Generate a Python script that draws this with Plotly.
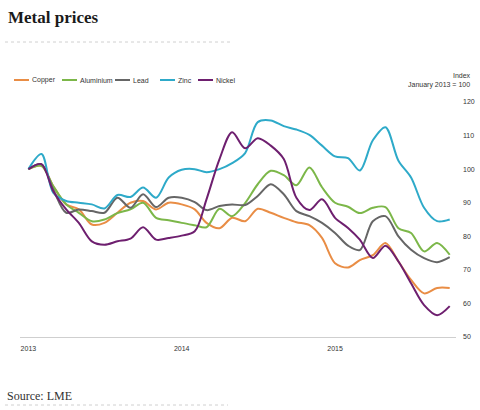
import pandas as pd
import plotly.graph_objects as go

# ---- data (index, January 2013 = 100), monthly Jan 2013 - Oct 2015 ----
months = pd.date_range("2013-01-01", periods=34, freq="MS")

copper = [100, 101, 95, 89.5, 88, 83.5, 84, 87, 90, 90.5, 88, 90,
          89.5, 88, 84, 82.4, 85.5, 84.5, 88.2, 87, 85.5, 84.2, 83.3, 79.5,
          72, 70.7, 72.9, 74.4, 78, 72.5, 67, 63, 64.6, 64.6]
aluminium = [100, 101, 95, 89.5, 87, 84.5, 85, 86.9, 88, 90, 85.5, 84.8,
             84, 83.3, 82.7, 88.2, 86, 89.9, 95.5, 99.5, 98.2, 95.2, 100.5, 94.6,
             90, 88.8, 86.9, 88.5, 88.7, 82.4, 81, 75.5, 78, 74.5]
lead = [100, 101.5, 94, 87, 88, 87.5, 87, 91.5, 88.5, 92.5, 88.7, 91.5,
        91.5, 90.2, 87.8, 89, 89.5, 89.3, 92, 95.5, 92.5, 87.5, 86, 84,
        81, 77.2, 75.9, 84.5, 86, 80, 76, 73.5, 72.3, 73.8]
zinc = [100, 104.5, 93, 90.5, 90, 89.5, 88.3, 92.3, 91.7, 94.5, 91.5, 97.5,
        99.8, 100, 99.1, 100, 101.8, 104.8, 114, 114.5, 112.8, 111.8, 110.2, 107,
        103.8, 103.3, 99.6, 108.6, 112.5, 102.5, 97.5, 88.5, 84.5, 85]
nickel = [100, 101.5, 93.5, 88, 84, 78.5, 77.5, 78.5, 79.3, 82.7, 79, 79.5,
          80.2, 81.5, 91, 103, 111, 106.2, 109.2, 107, 103, 91.5, 87.8, 91,
          85.5, 82.5, 79, 73.5, 77.2, 72.5, 66, 59.5, 56.5, 59.2]

series_names = ["Copper", "Aluminium", "Lead", "Zinc", "Nickel"]
series_values = [copper, aluminium, lead, zinc, nickel]
series_colors = ["#e98d45", "#7cb749", "#666666", "#2eaac9", "#6e1f6f"]

year_ticks = ["2013-01-01", "2014-01-01", "2015-01-01"]
year_labels = ["2013", "2014", "2015"]
y_ticks = [50, 60, 70, 80, 90, 100, 110, 120]

# ---- layout geometry (pixels) ----
W, H = 480, 410
ML, MR, MT, MB = 20, 24, 102, 73
PW, PH = W - ML - MR, H - MT - MB


def px(x):
    return (x - ML) / PW


def py(y):
    return (H - MB - y) / PH


fig = go.Figure()
for name, vals, col in zip(series_names, series_values, series_colors):
    fig.add_trace(go.Scatter(
        x=months, y=vals, name=name, mode="lines",
        line=dict(color=col, width=2, shape="spline", smoothing=0.9),
        showlegend=False, hoverinfo="skip",
    ))

small = dict(family="Liberation Sans, Arial", size=7, color="#333333")

fig.update_layout(
    width=W, height=H, autosize=False,
    margin=dict(l=ML, r=MR, t=MT, b=MB, pad=0, autoexpand=False),
    paper_bgcolor="white", plot_bgcolor="white",
    title=dict(text="<b>Metal prices</b>", xref="container", yref="container",
               x=8 / W, y=1 - 17 / H, xanchor="left", yanchor="middle",
               font=dict(family="Liberation Serif", size=17, color="#1a1a1a")),
    xaxis=dict(type="date", range=["2012-12-12", "2015-10-16"], automargin=False,
               tickvals=year_ticks, ticktext=year_labels,
               showgrid=False, zeroline=False, showline=True,
               linecolor="#cfcfcf", linewidth=1, ticks="",
               ticklabelstandoff=5, tickfont=small),
    yaxis=dict(range=[50, 120], side="right", tickvals=y_ticks, automargin=False,
               showgrid=False, zeroline=False, showline=False, ticks="",
               ticklabelstandoff=6, tickfont=small),
)

shapes = []
annotations = []
# title and source rules
shapes.append(dict(type="line", xref="paper", yref="paper",
                   x0=px(5), x1=px(230), y0=py(42), y1=py(42),
                   line=dict(color="#d0d0d0", width=1, dash="dot")))
shapes.append(dict(type="line", xref="paper", yref="paper",
                   x0=px(5), x1=px(228), y0=py(405), y1=py(405),
                   line=dict(color="#d0d0d0", width=1, dash="dot")))

# custom compact legend
leg_x = [14, 62, 115, 160, 198]
for name, col, lx in zip(series_names, series_colors, leg_x):
    shapes.append(dict(type="line", xref="paper", yref="paper",
                       x0=px(lx), x1=px(lx + 15), y0=py(80), y1=py(80),
                       line=dict(color=col, width=2)))
    annotations.append(dict(text=name, xref="paper", yref="paper",
                            x=px(lx + 15), y=py(80), xanchor="left", yanchor="middle",
                            showarrow=False, font=small, xshift=1))

annotations.append(dict(text="Index<br>January 2013 = 100", xref="paper", yref="paper",
                        x=px(473), y=py(80.5), xanchor="right", yanchor="middle",
                        align="right", showarrow=False, font=small))
annotations.append(dict(text="Source: LME", xref="paper", yref="paper",
                        x=px(5), y=py(396), xanchor="left", yanchor="middle",
                        showarrow=False,
                        font=dict(family="Liberation Serif", size=12, color="#333333")))

fig.update_layout(shapes=shapes, annotations=annotations)
fig.write_html("out.html", config={"displayModeBar": False},
               post_script="document.body.style.margin='0';document.body.style.overflow='hidden';")
